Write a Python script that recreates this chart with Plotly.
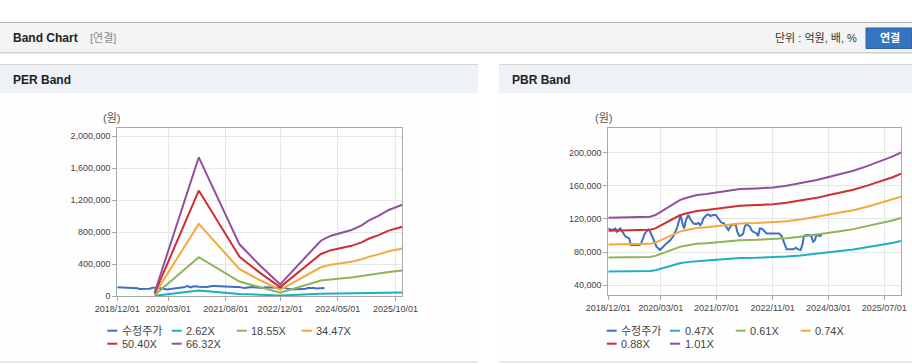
import plotly.graph_objects as go

# ---------------- data ----------------
price_dates = [
    "2018-12-01", "2019-01-01", "2019-02-01", "2019-02-15", "2019-03-15", "2019-04-01",
    "2019-05-01", "2019-05-15", "2019-06-01", "2019-06-15", "2019-08-01", "2019-09-01",
    "2019-09-15", "2019-10-15", "2019-11-15", "2019-12-01", "2020-01-01", "2020-01-25",
    "2020-02-25", "2020-03-20", "2020-04-20", "2020-05-25", "2020-06-20", "2020-07-20",
    "2020-08-10", "2020-08-22", "2020-09-10", "2020-09-22", "2020-10-07", "2020-10-28",
    "2020-11-12", "2020-11-27", "2020-12-10", "2021-01-03", "2021-01-25", "2021-02-07",
    "2021-02-22", "2021-03-07", "2021-04-04", "2021-04-19", "2021-05-10", "2021-06-03",
    "2021-06-25", "2021-07-15", "2021-08-01", "2021-08-13", "2021-09-03", "2021-09-28",
    "2021-10-12", "2021-11-01", "2021-11-25", "2021-12-15", "2021-12-28", "2022-01-15",
    "2022-02-05", "2022-02-18", "2022-03-03", "2022-03-18", "2022-04-18", "2022-05-01",
    "2022-05-15", "2022-06-15", "2022-06-28", "2022-07-12", "2022-07-27", "2022-08-12",
    "2022-08-25", "2022-09-10", "2022-11-07", "2022-12-28", "2023-01-18", "2023-02-03",
    "2023-02-18", "2023-03-03", "2023-05-01", "2023-05-22", "2023-06-12", "2023-07-03",
    "2023-07-21", "2023-08-01", "2023-08-18", "2023-09-15", "2023-10-05", "2023-10-20",
    "2023-11-05", "2023-11-18", "2023-12-18", "2024-01-03",
]
price_values = [
    108500, 106500, 108500, 104500, 108500, 104500,
    98500, 97700, 96500, 88400, 88400, 88400,
    91200, 102500, 107300, 104500, 94500, 86400,
    82400, 86400, 90400, 94500, 99300, 108500,
    120600, 124700, 112600, 108500, 118600, 124700,
    120600, 116600, 114600, 113800, 115400, 112600,
    114600, 120600, 124700, 125500, 123500, 124700,
    124700, 120600, 116600, 115400, 114600, 108500,
    106500, 111400, 113800, 112600, 104500, 99300,
    100500, 102500, 110500, 113800, 110500, 106500,
    104500, 102500, 99300, 108500, 108500, 106500,
    104500, 102500, 102500, 102500, 99300, 92400,
    86400, 83200, 83200, 85200, 83200, 82400,
    90400, 99300, 100500, 100500, 98500, 92400,
    94500, 100500, 99300, 100500,
]

# EPS used by the PER band (won per share)
eps_dates = [
    "2019-11-01", "2020-12-01", "2021-12-01", "2022-06-01", "2022-12-01",
    "2023-12-01", "2024-03-01", "2024-05-01", "2024-09-01", "2024-12-01",
    "2025-02-01", "2025-05-01", "2025-08-01", "2025-12-01",
]
eps_values = [
    650, 26140, 9740, 5800, 2200,
    10420, 11370, 11700, 12440, 13300,
    14190, 15100, 16210, 17190,
]
per_multiples = [2.62, 18.55, 34.47, 50.40, 66.32]

# BPS used by the PBR band (won per share)
bps_dates = [
    "2018-12-01", "2019-06-01", "2019-12-01", "2020-01-15", "2020-03-01", "2020-04-20",
    "2020-06-20", "2020-08-15", "2020-10-15", "2021-01-10", "2021-04-05", "2021-07-01",
    "2021-10-01", "2022-01-20", "2022-06-15", "2022-11-07", "2023-03-01", "2023-07-01",
    "2023-11-20", "2024-02-15", "2024-06-10", "2024-10-03", "2025-02-01", "2025-06-20",
    "2025-09-18", "2025-11-23",
]
bps_values = [
    120260, 120600, 121450, 123450, 127440, 131430,
    136610, 141400, 144190, 147390, 148580, 150580,
    152570, 154570, 155370, 156560, 158550, 161350,
    165340, 168530, 172520, 176510, 182100, 189280,
    194070, 198470,
]
pbr_multiples = [0.47, 0.61, 0.74, 0.88, 1.01]

per_legend = ["수정주가", "2.62X", "18.55X", "34.47X", "50.40X", "66.32X"]
pbr_legend = ["수정주가", "0.47X", "0.61X", "0.74X", "0.88X", "1.01X"]

per_tick_dates = ["2018-12-01", "2020-03-01", "2021-08-01", "2022-12-01", "2024-05-01", "2025-10-01"]
pbr_tick_dates = ["2018-12-01", "2020-03-01", "2021-07-01", "2022-11-01", "2024-03-01", "2025-07-01"]
per_y_ticks = [0, 400000, 800000, 1200000, 1600000, 2000000]
pbr_y_ticks = [40000, 80000, 120000, 160000, 200000]

# ---------------- styling ----------------
W, H = 912, 364
COLORS = ["#3c70c2", "#1eafc3", "#8fb356", "#f5a83b", "#cf2f2f", "#924f9f"]
FONT = "Liberation Sans, Arial, Noto Sans CJK KR, sans-serif"
GRID = "#e6e6e6"
AXLINE = "#a8a8a8"
TICKCOL = "#444444"


def px(x):
    return x / W


def py(y):
    return 1 - y / H


fig = go.Figure()

# PER traces
fig.add_trace(go.Scatter(x=price_dates, y=price_values, mode="lines",
                         line=dict(color=COLORS[0], width=2), name=per_legend[0],
                         xaxis="x", yaxis="y", hoverinfo="skip"))
for i, m in enumerate(per_multiples):
    fig.add_trace(go.Scatter(x=eps_dates, y=[round(m * v) for v in eps_values], mode="lines",
                             line=dict(color=COLORS[i + 1], width=2), name=per_legend[i + 1],
                             xaxis="x", yaxis="y", hoverinfo="skip"))

# PBR traces
fig.add_trace(go.Scatter(x=price_dates, y=price_values, mode="lines",
                         line=dict(color=COLORS[0], width=2), name=pbr_legend[0],
                         xaxis="x2", yaxis="y2", hoverinfo="skip"))
for i, m in enumerate(pbr_multiples):
    fig.add_trace(go.Scatter(x=bps_dates, y=[round(m * v) for v in bps_values], mode="lines",
                             line=dict(color=COLORS[i + 1], width=2), name=pbr_legend[i + 1],
                             xaxis="x2", yaxis="y2", hoverinfo="skip"))


def xaxis_style(domain, rng, ticks, anchor):
    return dict(domain=domain, anchor=anchor, type="date", range=rng, tickmode="array",
                tickvals=ticks, ticktext=[t.replace("-", "/") for t in ticks],
                showgrid=True, gridcolor=GRID, gridwidth=1, zeroline=False,
                showline=True, linecolor=AXLINE, linewidth=1, mirror=True,
                ticks="outside", ticklen=4, tickcolor=AXLINE, automargin=False,
                tickfont=dict(size=9, color=TICKCOL, family=FONT), fixedrange=True)


def yaxis_style(domain, rng, ticks, anchor):
    return dict(domain=domain, anchor=anchor, range=rng, tickmode="array", tickvals=ticks,
                ticktext=[f"{t:,}" for t in ticks],
                showgrid=True, gridcolor=GRID, gridwidth=1, zeroline=False,
                showline=True, linecolor=AXLINE, linewidth=1, mirror=True,
                ticks="outside", ticklen=4, tickcolor=AXLINE, automargin=False,
                tickfont=dict(size=9, color=TICKCOL, family=FONT), fixedrange=True)


shapes = []
annotations = []


def rect(x0, y0, x1, y1, fill, line=None, layer="below"):
    shapes.append(dict(type="rect", xref="paper", yref="paper", x0=px(x0), x1=px(x1),
                       y0=py(y1), y1=py(y0), fillcolor=fill, layer=layer,
                       line=dict(width=1 if line else 0, color=line or fill)))


def hline(x0, x1, y, color, width=1, layer="below"):
    shapes.append(dict(type="line", xref="paper", yref="paper", x0=px(x0), x1=px(x1),
                       y0=py(y), y1=py(y), layer=layer, line=dict(color=color, width=width)))


def text(x, y, s, size=11, color="#333333", anchor="left", bold=False):
    annotations.append(dict(xref="paper", yref="paper", x=px(x), y=py(y),
                            text=f"<b>{s}</b>" if bold else s, showarrow=False,
                            xanchor=anchor, yanchor="middle",
                            font=dict(size=size, color=color, family=FONT)))


# top header bar
hline(0, W, 22.5, "#b5b5b5")
rect(0, 23, W, 52, "#f4f4f4")
hline(0, W, 52.5, "#cfcfcf")
hline(0, W, 53.5, "#e6e6e6")
text(11, 38, "Band Chart", size=12, color="#222222", bold=True)
text(88, 38, "[연결]", size=11, color="#8a8a8a")
text(859, 38, "단위 : 억원, 배, %", size=11, color="#333333", anchor="right")
rect(866, 28, W, 48.5, "#3574c1", line="#2b62a6")
text(889.5, 38.5, "연결", size=11, color="#ffffff", anchor="center", bold=True)

# panels
for x0, x1, title in [(0, 478, "PER Band"), (499, W, "PBR Band")]:
    hline(x0, x1, 64.5, "#d6d6d6")
    rect(x0, 65, x1, 93, "#eef2f7")
    rect(x0, 93, x1, 361.5, "#fefefe")
    hline(x0, x1, 362, "#d4d4d4")
    text(x0 + 11, 80, title, size=12, color="#222222", bold=True)

text(111.7, 118, "(원)", size=11, color="#555555", anchor="center")
text(603, 118, "(원)", size=11, color="#555555", anchor="center")

# legends
for labels, cols in [(per_legend, [107.3, 171.7, 236.7, 301.7]),
                     (pbr_legend, [606.7, 670.0, 735.7, 800.7])]:
    for i, lab in enumerate(labels):
        row, col = divmod(i, 4)
        y = 330.7 + row * 13
        x0 = cols[col]
        hline(x0, x0 + 10, y, COLORS[i], width=2, layer="above")
        text(x0 + 12.5, y, lab, size=11, color="#444444")

fig.update_layout(
    width=W, height=H, margin=dict(l=0, r=0, t=0, b=0, pad=0, autoexpand=False),
    paper_bgcolor="#ffffff", plot_bgcolor="rgba(0,0,0,0)",
    showlegend=False, font=dict(family=FONT),
    xaxis=xaxis_style([px(117.3), px(402.3)], ["2018-12-01", "2025-12-01"], per_tick_dates, "y"),
    yaxis=yaxis_style([py(296), py(128)], [0, 2100000], per_y_ticks, "x"),
    xaxis2=xaxis_style([px(608.3), px(901)], ["2018-12-01", "2025-11-23"], pbr_tick_dates, "y2"),
    yaxis2=yaxis_style([py(295), py(128)], [28000, 230000], pbr_y_ticks, "x2"),
    shapes=shapes, annotations=annotations,
)

fig.write_html("out.html", config={"displayModeBar": False, "staticPlot": True},
               post_script="document.body.style.margin='0';document.body.style.overflow='hidden';")
